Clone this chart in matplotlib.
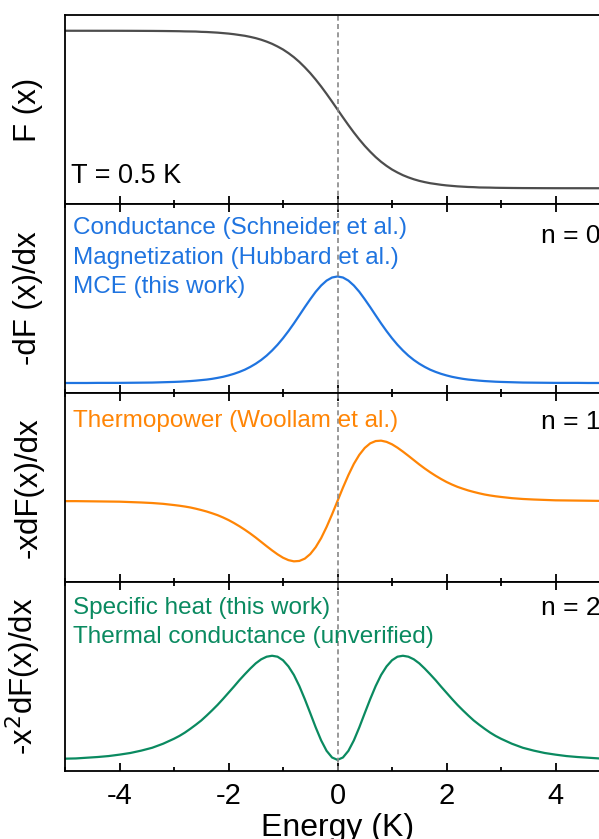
import numpy as np
import matplotlib
matplotlib.use("Agg")
import matplotlib.pyplot as plt
from matplotlib.ticker import MultipleLocator

plt.rcParams['font.family'] = ['Liberation Sans', 'DejaVu Sans']
plt.rcParams['axes.unicode_minus'] = False

# energy grid, K (right half; left half mirrored)
x_half = [0.0, 0.1, 0.2, 0.3, 0.4, 0.5, 0.6, 0.7, 0.8, 0.9, 1.0, 1.1, 1.2,
          1.3, 1.4, 1.5, 1.6, 1.7, 1.8, 1.9, 2.0, 2.1, 2.2, 2.3, 2.4, 2.5,
          2.6, 2.7, 2.8, 2.9, 3.0, 3.2, 3.4, 3.6, 3.8, 4.0, 4.2, 4.4, 4.6,
          4.8, 5.0]

# F(x) for x >= 0
f_half = [0.500, 0.450, 0.401, 0.354, 0.310, 0.269, 0.232, 0.198, 0.168,
          0.142, 0.119, 0.100, 0.083, 0.069, 0.057, 0.047, 0.039, 0.032,
          0.027, 0.022, 0.018, 0.015, 0.012, 0.010, 0.008, 0.007, 0.005,
          0.0045, 0.004, 0.003, 0.0025, 0.0017, 0.0011, 0.0008, 0.0005,
          0.0003, 0.0002, 0.0002, 0.0001, 0.0001, 0.0000]

# -dF/dx (n = 0), normalised to peak
g0_half = [1.000, 0.990, 0.961, 0.915, 0.856, 0.786, 0.712, 0.635, 0.559,
           0.487, 0.420, 0.359, 0.305, 0.257, 0.216, 0.181, 0.151, 0.125,
           0.104, 0.086, 0.071, 0.058, 0.048, 0.039, 0.032, 0.027, 0.022,
           0.018, 0.015, 0.012, 0.010, 0.007, 0.004, 0.003, 0.002, 0.001,
           0.001, 0.001, 0.000, 0.000, 0.000]

# -x dF/dx (n = 1)
g1_half = [0.000, 0.099, 0.192, 0.275, 0.342, 0.393, 0.427, 0.444, 0.447,
           0.438, 0.420, 0.395, 0.366, 0.335, 0.303, 0.271, 0.241, 0.213,
           0.187, 0.163, 0.141, 0.122, 0.105, 0.091, 0.078, 0.067, 0.057,
           0.048, 0.041, 0.035, 0.030, 0.021, 0.015, 0.011, 0.008, 0.005,
           0.004, 0.003, 0.002, 0.001, 0.001]

# -x^2 dF/dx (n = 2)
g2_half = [0.000, 0.010, 0.038, 0.082, 0.137, 0.197, 0.256, 0.311, 0.358,
           0.394, 0.420, 0.435, 0.439, 0.435, 0.424, 0.407, 0.385, 0.361,
           0.336, 0.309, 0.283, 0.257, 0.232, 0.209, 0.187, 0.166, 0.148,
           0.131, 0.115, 0.101, 0.089, 0.068, 0.051, 0.039, 0.029, 0.022,
           0.016, 0.012, 0.009, 0.006, 0.005]

xh = np.array(x_half)
energy = np.concatenate([-xh[:0:-1], xh])
fermi = np.concatenate([1 - np.array(f_half)[:0:-1], f_half])
n0 = np.concatenate([np.array(g0_half)[:0:-1], g0_half])
n1 = np.concatenate([-np.array(g1_half)[:0:-1], g1_half])
n2 = np.concatenate([np.array(g2_half)[:0:-1], g2_half])

curves = [fermi, n0, n1, n2]
colors = ['#4d4d4d', '#1f74e0', '#ff8505', '#0a8a60']
ylabels = ['F (x)', '-dF (x)/dx', '-xdF(x)/dx', r'-x$^2$dF(x)/dx']
ylims = [(-0.10, 1.10), (-0.094, 1.68), (-0.60, 0.80), (-0.047, 0.75)]
notes = [['T = 0.5 K'],
         ['Conductance (Schneider et al.)', 'Magnetization (Hubbard et al.)', 'MCE (this work)'],
         ['Thermopower (Woollam et al.)'],
         ['Specific heat (this work)', 'Thermal conductance (unverified)']]
note_y = [[0.111], [0.840, 0.681, 0.527], [0.820], [0.831, 0.677]]
n_labels = [None, 'n = 0', 'n = 1', 'n = 2']
n_y = [None, 0.793, 0.810, 0.825]

W, H = 599, 839
fig = plt.figure(figsize=(W / 100, H / 100), dpi=100)

left, width = 65 / W, 545 / W
panel_h = 189 / H
bottom0 = 1 - 771 / H

for i in range(4):
    ax = fig.add_axes([left, bottom0 + (3 - i) * panel_h, width, panel_h])
    ax.plot(energy, curves[i], color=colors[i], lw=1.6)
    ax.axvline(0, color='#888888', lw=1.2, ls=(0, (3, 2)))
    ax.set_xlim(-5, 5)
    ax.set_ylim(*ylims[i])
    ax.set_yticks([])
    ax.xaxis.set_major_locator(MultipleLocator(2))
    ax.xaxis.set_minor_locator(MultipleLocator(1))
    ax.tick_params(axis='x', which='both', direction='in', top=(i > 0),
                   bottom=True, width=1.3, labelsize=21, pad=8,
                   labelbottom=(i == 3))
    ax.tick_params(axis='x', which='major', length=6)
    ax.tick_params(axis='x', which='minor', length=3)
    for sp in ax.spines.values():
        sp.set_linewidth(1.3)
    ax.set_ylabel(ylabels[i], fontsize=22.5)
    ax.yaxis.set_label_coords(-0.04, 0.5)

    for txt, yy in zip(notes[i], note_y[i]):
        ax.text(0.011 if i == 0 else 0.014, yy, txt, transform=ax.transAxes,
                fontsize=19.5 if i == 0 else 17.5,
                color='black' if i == 0 else colors[i], va='baseline', ha='left')
    if n_labels[i]:
        ax.text(0.983, n_y[i], n_labels[i], transform=ax.transAxes,
                fontsize=19, va='baseline', ha='right')

    if i == 3:
        ax.set_xlabel('Energy (K)', fontsize=23, labelpad=2)

fig.savefig('out.png', dpi=100)
